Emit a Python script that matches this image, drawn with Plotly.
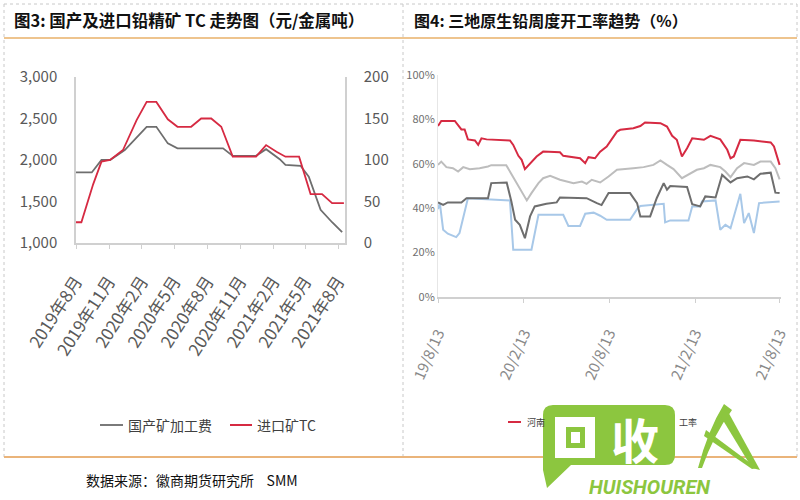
import plotly.graph_objects as go
import pandas as pd

W, H = 800, 500

# ---------------- Left chart data (图3) ----------------
left_tick_dates = ["2019-08-01", "2019-11-01", "2020-02-01", "2020-05-01", "2020-08-01",
                   "2020-11-01", "2021-02-01", "2021-05-01", "2021-08-01"]
left_tick_text = ["2019年8月", "2019年11月", "2020年2月", "2020年5月", "2020年8月",
                  "2020年11月", "2021年2月", "2021年5月", "2021年8月"]

domestic_dates = ["2019-08-01", "2019-09-14", "2019-10-11", "2019-11-04", "2019-12-15",
                  "2020-02-14", "2020-03-12", "2020-04-13", "2020-05-10", "2020-09-14",
                  "2020-10-11", "2020-12-15", "2021-01-12", "2021-02-19", "2021-03-07",
                  "2021-04-18", "2021-05-11", "2021-06-13", "2021-07-15", "2021-08-12"]
domestic_fee = [1850, 1850, 2000, 2000, 2120, 2400, 2400, 2200, 2140, 2140,
                2050, 2050, 2130, 2010, 1940, 1930, 1800, 1400, 1250, 1130]

import_dates = ["2019-08-01", "2019-08-16", "2019-09-18", "2019-10-11", "2019-11-04",
                "2019-12-10", "2020-01-17", "2020-02-14", "2020-03-12", "2020-04-13",
                "2020-05-10", "2020-06-17", "2020-07-15", "2020-08-12", "2020-09-09",
                "2020-10-11", "2020-12-15", "2021-01-12", "2021-02-10", "2021-03-07",
                "2021-04-14", "2021-05-16", "2021-06-17", "2021-07-15", "2021-08-17"]
import_tc = [25, 25, 71, 98, 100, 112, 148, 170, 170, 149,
             140, 140, 150, 150, 140, 104, 104, 118, 110, 104,
             104, 59, 59, 48, 48]

# ---------------- Right chart data (图4) ----------------
right_start = "2019-08-13"
right_tick_dates = ["2019-08-13", "2020-02-13", "2020-08-13", "2021-02-13", "2021-08-13"]
right_tick_text = ["19/8/13", "20/2/13", "20/8/13", "21/2/13", "21/8/13"]

henan_days = [0, 7, 36, 43, 50, 57, 64, 79, 86, 93, 104, 154, 161, 172, 179, 186, 197, 211,
              225, 261, 268, 304, 315, 322, 336, 347, 361, 383, 390, 418, 433, 443, 476,
              490, 501, 511, 522, 533, 544, 569, 583, 604, 619, 626, 633, 647, 676, 712,
              719, 731]
henan_rate = [77, 79.3, 79.3, 77.5, 75.5, 75.5, 71, 70.5, 68.5, 71.5, 71, 70.5, 68.5,
              63.6, 61.8, 57.6, 60.3, 63.3, 65.5, 65.2, 63.6, 62.5, 60.3, 63, 62.5, 65.5,
              67.8, 74.5, 75.3, 76, 77, 78.6, 78.3, 76.8, 72.6, 70.8, 63.3, 67, 71.5,
              70.8, 72.6, 71, 66.3, 62.5, 63.3, 70.8, 70.5, 69.6, 67.8, 59.5]

avg_days = [0, 7, 18, 32, 43, 54, 68, 89, 107, 114, 146, 154, 165, 175, 190, 200, 215, 225,
            240, 261, 290, 308, 318, 329, 347, 365, 383, 418, 440, 461, 476, 490, 504,
            522, 540, 554, 569, 583, 604, 615, 626, 640, 655, 676, 690, 712, 722, 731]
avg_rate = [59.5, 61, 58.5, 58, 56.5, 58.5, 57.6, 58, 58.8, 59.4, 59.4, 56.5, 52, 48.3,
            43.5, 46.8, 51.3, 53.5, 54.6, 52.8, 51.3, 52, 51, 52.8, 51.6, 54.3, 57.3, 58,
            58.5, 59.5, 61.5, 59.5, 57.6, 53.5, 55.8, 57.3, 58, 59.5, 58.5, 56.5, 54,
            58, 60.3, 59.5, 61, 61, 58, 53]

anhui_days = [0, 11, 21, 50, 61, 107, 114, 147, 157, 165, 175, 186, 197, 207, 232, 254,
              261, 318, 340, 350, 365, 411, 426, 433, 454, 468, 483, 490, 497, 533, 544,
              561, 572, 594, 608, 626, 640, 662, 676, 690, 712, 722, 731]
anhui_rate = [42.6, 41.5, 42.6, 42.6, 44.5, 44.5, 51.3, 51.6, 43, 34.8, 32.5, 26.5, 36.3,
              40.8, 42, 42.6, 44.8, 44.5, 42.3, 41.4, 46.8, 46.8, 42.3, 36.3, 36.3, 44.5,
              51.3, 48.3, 50, 49.6, 41.8, 40.8, 45.3, 44.8, 55, 51.6, 53.5, 54.3, 53,
              55.5, 56, 47, 46.8]

yunnan_days = [0, 4, 11, 21, 39, 46, 64, 154, 161, 200, 215, 268, 279, 304, 315, 333, 347,
               361, 411, 426, 433, 483, 486, 497, 536, 544, 561, 565, 594, 604, 615, 626,
               647, 655, 665, 676, 687, 731]
yunnan_rate = [39.6, 42.3, 30.3, 28.5, 27, 28.8, 44.5, 43.5, 21.3, 21.3, 37, 37, 32, 32,
               37.5, 38, 36.6, 34.8, 34.8, 39.6, 41, 42, 33.6, 34.5, 34.5, 40.8, 40.8, 43,
               43.5, 30.3, 32.5, 31, 46.5, 33.3, 37.8, 28.8, 42.3, 43]

right_names = ["河南开工率", "三地平均开工率", "安徽开工率", "云南开工率"]
right_colors = ["#d62a42", "#bdbdbd", "#6e6e6e", "#a8c8e8"]


def to_dates(days):
    return pd.Timestamp(right_start) + pd.to_timedelta(days, unit="D")


def px(x):
    return x / W


def py(y):
    return 1 - y / H


CJK = "Noto Sans CJK SC"
fig = go.Figure()

fig.add_trace(go.Scatter(x=domestic_dates, y=domestic_fee, mode="lines", name="国产矿加工费",
                         line=dict(color="#6e6e6e", width=1.8), xaxis="x", yaxis="y",
                         showlegend=False))
fig.add_trace(go.Scatter(x=import_dates, y=import_tc, mode="lines", name="进口矿TC",
                         line=dict(color="#d62a42", width=1.8), xaxis="x", yaxis="y2",
                         showlegend=False))

series = [(avg_days, avg_rate, 1), (yunnan_days, yunnan_rate, 3),
          (anhui_days, anhui_rate, 2), (henan_days, henan_rate, 0)]
for d, v, i in series:
    fig.add_trace(go.Scatter(x=to_dates(d), y=v, mode="lines", name=right_names[i],
                             line=dict(color=right_colors[i], width=2),
                             xaxis="x2", yaxis="y3", showlegend=False))

axis_grey = "#d0d0d0"
fig.update_layout(
    template="none",
    width=W, height=H, margin=dict(l=0, r=0, t=0, b=0, autoexpand=False),
    paper_bgcolor="white", plot_bgcolor="white",
    font=dict(family=CJK, color="#595959"),
    xaxis=dict(domain=[px(76), px(345)], type="date", automargin=False,
               range=["2019-08-01", "2021-08-20"],
               tickmode="array", tickvals=left_tick_dates, ticktext=left_tick_text,
               tickangle=-57, tickfont=dict(size=17, color="#595959"),
               ticks="outside", ticklen=4, tickcolor=axis_grey, ticklabelstandoff=16,
               showline=True, linecolor=axis_grey, linewidth=1.5,
               showgrid=False, zeroline=False, anchor="y"),
    yaxis=dict(domain=[py(243), py(77)], range=[1000, 3000], dtick=500, automargin=False,
               tickformat=",", tickfont=dict(size=15, color="#595959"),
               showline=True, linecolor=axis_grey, linewidth=1.5, ticks="",
               showgrid=False, zeroline=False, anchor="x", ticklabelstandoff=14),
    yaxis2=dict(overlaying="y", side="right", range=[0, 200], dtick=50, automargin=False,
                tickfont=dict(size=15, color="#595959"),
                showline=True, linecolor=axis_grey, linewidth=1.5, ticks="",
                showgrid=False, zeroline=False, anchor="x", ticklabelstandoff=14),
    xaxis2=dict(domain=[px(438), px(781)], type="date", automargin=False,
                range=["2019-08-13", "2021-08-16"],
                tickmode="array", tickvals=right_tick_dates, ticktext=right_tick_text,
                tickangle=-66, tickfont=dict(size=15, color="#8a8a8a"),
                ticks="outside", ticklen=4, tickcolor=axis_grey, ticklabelstandoff=16,
                showline=True, linecolor=axis_grey, linewidth=1.5,
                showgrid=False, zeroline=False, anchor="y3"),
    yaxis3=dict(domain=[py(297), py(75)], range=[0, 100], dtick=20, ticksuffix="%",
                automargin=False, tickfont=dict(size=11, color="#707070"),
                showline=True, linecolor="#e6e6e6", ticks="",
                showgrid=False, zeroline=False, anchor="x2"),
)

shapes = []
annotations = []

# frame: dashed borders and orange separators
dash_col = "#c8c8c8"
shapes.append(dict(type="line", xref="paper", yref="paper", x0=px(4), x1=px(797),
                   y0=py(4), y1=py(4), line=dict(color=dash_col, width=1, dash="dot")))
for xv in (4, 403, 797):
    shapes.append(dict(type="line", xref="paper", yref="paper", x0=px(xv), x1=px(xv),
                       y0=py(4), y1=py(457), line=dict(color=dash_col, width=1, dash="dot")))
shapes.append(dict(type="line", xref="paper", yref="paper", x0=px(4), x1=px(797),
                   y0=py(38), y1=py(38), line=dict(color="#eec48e", width=2)))
shapes.append(dict(type="line", xref="paper", yref="paper", x0=px(4), x1=px(797),
                   y0=py(457), y1=py(457), line=dict(color="#eab47a", width=2)))

# titles
annotations.append(dict(text="<b>图3: 国产及进口铅精矿 TC 走势图（元/金属吨）</b>",
                        x=px(12), y=py(20), xref="paper", yref="paper",
                        xanchor="left", yanchor="middle", showarrow=False,
                        font=dict(size=16.5, color="#111111", family=CJK)))
annotations.append(dict(text="<b>图4: 三地原生铅周度开工率趋势（%）</b>",
                        x=px(412), y=py(20), xref="paper", yref="paper",
                        xanchor="left", yanchor="middle", showarrow=False,
                        font=dict(size=16, color="#111111", family=CJK)))

# left legend
shapes.append(dict(type="line", xref="paper", yref="paper", x0=px(100), x1=px(123),
                   y0=py(425), y1=py(425), line=dict(color="#7a7a7a", width=2)))
annotations.append(dict(text="国产矿加工费", x=px(126), y=py(425), xref="paper", yref="paper",
                        xanchor="left", yanchor="middle", showarrow=False,
                        font=dict(size=14, color="#404040", family=CJK)))
shapes.append(dict(type="line", xref="paper", yref="paper", x0=px(230), x1=px(252),
                   y0=py(425), y1=py(425), line=dict(color="#d62a42", width=2)))
annotations.append(dict(text="进口矿TC", x=px(255), y=py(425), xref="paper", yref="paper",
                        xanchor="left", yanchor="middle", showarrow=False,
                        font=dict(size=14, color="#404040", family=CJK)))

# right legend (mostly hidden under the watermark)
shapes.append(dict(type="line", xref="paper", yref="paper", x0=px(508), x1=px(521),
                   y0=py(422), y1=py(422), line=dict(color="#d62a42", width=2)))
annotations.append(dict(text="河南", x=px(525), y=py(422), xref="paper", yref="paper",
                        xanchor="left", yanchor="middle", showarrow=False,
                        font=dict(size=9, color="#404040", family=CJK)))
annotations.append(dict(text="工率", x=px(677), y=py(422), xref="paper", yref="paper",
                        xanchor="left", yanchor="middle", showarrow=False,
                        font=dict(size=9, color="#404040", family=CJK)))

# source
annotations.append(dict(text="数据来源：徽商期货研究所    SMM", x=px(84), y=py(480),
                        xref="paper", yref="paper", xanchor="left", yanchor="middle",
                        showarrow=False, font=dict(size=14, color="#111111", family=CJK)))


# watermark
def path(points, close=True):
    s = ""
    for i, p in enumerate(points):
        if p[0] == "Q":
            s += f"Q{px(p[1]):.5f},{py(p[2]):.5f} {px(p[3]):.5f},{py(p[4]):.5f} "
        else:
            s += ("M" if i == 0 else "L") + f"{px(p[0]):.5f},{py(p[1]):.5f} "
    return s + ("Z" if close else "")


green = "#8cc63f"
bubble = [(553, 405), (665, 405), ("Q", 675, 405, 675, 415), (675, 455),
          ("Q", 675, 465, 665, 465), (571, 465), (547, 488), (543, 470), (543, 415),
          ("Q", 543, 405, 553, 405)]
shapes.append(dict(type="path", xref="paper", yref="paper", path=path(bubble),
                   fillcolor=green, line=dict(width=0), layer="above"))
for (x0, y0, x1, y1, c) in [(555, 417, 595, 458, "white"), (566, 427, 585, 448, green),
                            (571, 432, 580, 443, "white")]:
    shapes.append(dict(type="rect", xref="paper", yref="paper", x0=px(x0), x1=px(x1),
                       y0=py(y1), y1=py(y0), fillcolor=c, line=dict(width=0), layer="above"))
annotations.append(dict(text="<b>收</b>", x=px(635), y=py(438), xref="paper", yref="paper",
                        xanchor="center", yanchor="middle", showarrow=False,
                        font=dict(size=48, color="white", family=CJK)))
annotations.append(dict(text="<b><i>HUISHOUREN</i></b>", x=px(649), y=py(487),
                        xref="paper", yref="paper", xanchor="center", yanchor="middle",
                        showarrow=False, font=dict(size=20, color=green, family="Roboto")))
for pts in ([(698, 468), ("Q", 708, 430, 724, 404), (732, 410), ("Q", 714, 434, 702, 468)],
            [(726, 408), (760, 470), (752, 468), (721, 417)],
            [(706, 430), (757, 468), (752, 469), (704, 436)]):
    shapes.append(dict(type="path", xref="paper", yref="paper", path=path(pts),
                       fillcolor=green, line=dict(width=0), layer="above"))

fig.update_layout(shapes=shapes, annotations=annotations)
fig.write_html("out.html", config={"displayModeBar": False},
               post_script="document.body.style.margin='0';document.body.style.overflow='hidden';")
